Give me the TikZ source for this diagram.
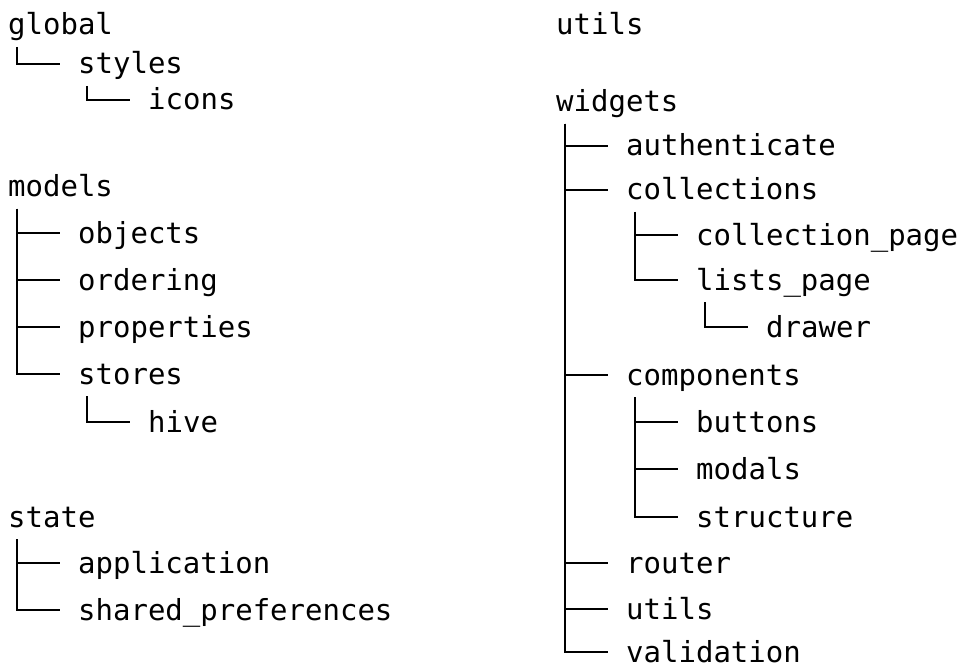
\documentclass[tikz,border=0pt]{standalone}
\usepackage{fontspec}
\setmonofont{DejaVu Sans Mono}
\tikzset{
  dir/.style={anchor=base west, inner sep=0pt, font=\ttfamily\fontsize{29}{29}\selectfont},
  branch/.style={line width=2.2pt},
}
\newcommand{\treeedge}[2]{\draw[branch] ([xshift=9pt,yshift=-12pt]#1.base west) |- ([shift={(-18pt,10pt)}]#2.base west);}
\begin{document}
\begin{tikzpicture}[x=1pt,y=-1pt]
        \useasboundingbox (0,0) rectangle (965,668);
        % left column
        \node[dir] (global) at (8,35) {global};
        \node[dir] (styles) at (78,74) {styles};
        \node[dir] (icons) at (148,110) {icons};
        \node[dir] (models) at (8,197) {models};
        \node[dir] (objects) at (78,243) {objects};
        \node[dir] (ordering) at (78,290) {ordering};
        \node[dir] (properties) at (78,337) {properties};
        \node[dir] (stores) at (78,384) {stores};
        \node[dir] (hive) at (148,432) {hive};
        \node[dir] (state) at (8,527) {state};
        \node[dir] (application) at (78,573) {application};
        \node[dir] (sharedprefs) at (78,620) {shared\_preferences};
        
        % right column
        \node[dir] (utils) at (556,35) {utils};
        \node[dir] (widgets) at (556,112) {widgets};
        \node[dir] (authenticate) at (626,156) {authenticate};
        \node[dir] (collections) at (626,200) {collections};
        \node[dir] (collectionpage) at (696,245) {collection\_page};
        \node[dir] (listspage) at (696,290) {lists\_page};
        \node[dir] (drawer) at (766,337) {drawer};
        \node[dir] (components) at (626,385) {components};
        \node[dir] (buttons) at (696,432) {buttons};
        \node[dir] (modals) at (696,479) {modals};
        \node[dir] (structure) at (696,527) {structure};
        \node[dir] (router) at (626,573) {router};
        \node[dir] (wutils) at (626,619) {utils};
        \node[dir] (validation) at (626,662) {validation};
        
        % tree lines
        \treeedge{global}{styles}
        \treeedge{styles}{icons}
        \treeedge{models}{objects}
        \treeedge{models}{ordering}
        \treeedge{models}{properties}
        \treeedge{models}{stores}
        \treeedge{stores}{hive}
        \treeedge{state}{application}
        \treeedge{state}{sharedprefs}
        \treeedge{widgets}{authenticate}
        \treeedge{widgets}{collections}
        \treeedge{collections}{collectionpage}
        \treeedge{collections}{listspage}
        \treeedge{listspage}{drawer}
        \treeedge{widgets}{components}
        \treeedge{components}{buttons}
        \treeedge{components}{modals}
        \treeedge{components}{structure}
        \treeedge{widgets}{router}
        \treeedge{widgets}{wutils}
        \treeedge{widgets}{validation}
\end{tikzpicture}
\end{document}
